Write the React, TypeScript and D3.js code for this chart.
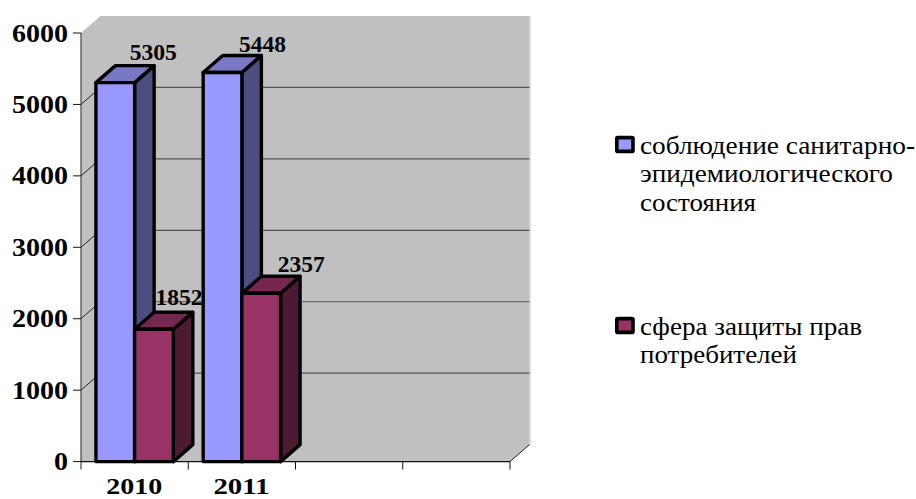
import React from "react";
import * as d3 from "d3";

const categories = ["2010", "2011"];
const sanitary = [5305, 5448];
const consumer = [1852, 2357];
const yTicks = [0, 1000, 2000, 3000, 4000, 5000, 6000];
const slotCount = 4;

const legendSanitary = ["соблюдение санитарно-", "эпидемиологического", "состояния"];
const legendConsumer = ["сфера защиты прав", "потребителей"];

const SERIF = "'Liberation Serif'";
const DX = 19.5;
const DY = 17;

const x = d3.scaleLinear().domain([0, slotCount]).range([81, 510]);
const y = d3.scaleLinear().domain([0, 6000]).range([461.6, 33]);

const blue = { front: "#9999ff", top: "#7878c4", side: "#4d4d80" };
const wine = { front: "#993366", top: "#76264f", side: "#4d1a33" };

type Palette = typeof blue;

function Bar({ left, right, value, c }: { left: number; right: number; value: number; c: Palette }) {
  const top = y(value);
  const base = y(0);
  const stroke = { stroke: "#000", strokeWidth: 3.4, strokeLinejoin: "round" as const };
  return (
    <g>
      <path
        d={`M${right},${top}L${right + DX},${top - DY}V${base - DY}L${right},${base}Z`}
        fill={c.side}
        {...stroke}
      />
      <path
        d={`M${left},${top}L${left + DX},${top - DY}H${right + DX}L${right},${top}Z`}
        fill={c.top}
        {...stroke}
      />
      <rect x={left} y={top} width={right - left} height={base - top} fill={c.front} {...stroke} />
    </g>
  );
}

function FitText(props: { x: number; y: number; w: number; size: number; bold?: boolean; anchor?: string; children: string }) {
  return (
    <text
      x={props.x}
      y={props.y}
      textLength={props.w}
      lengthAdjust="spacingAndGlyphs"
      textAnchor={props.anchor ?? "start"}
      fontFamily={SERIF}
      fontSize={props.size}
      fontWeight={props.bold ? 700 : 400}
      fill="#000"
    >
      {props.children}
    </text>
  );
}

// Per-label offsets of the value captions from the bar's top centre
const captionShift = [
  [[38, -23], [40, -20]],
  [[25, -24], [40, -21]],
];

export default function App() {
  const left = x(0);
  const right = x(slotCount);
  const top = y(6000);
  const base = y(0);
  const slot = x(1) - x(0);
  const barW = 38.7;
  const pad = (slot - 2 * barW) / 2;

  const legendLines = (lines: string[], widths: number[], ys: number[]) =>
    lines.map((t, i) => (
      <FitText key={t} x={640} y={ys[i]} w={widths[i]} size={25}>
        {t}
      </FitText>
    ));

  return (
    <svg
      width={916}
      height={499}
      viewBox="0 0 916 499"
      style={{ position: "absolute", left: 0, top: 0, background: "#fff" }}
    >
      {/* walls of the 3D plot area */}
      <path
        d={`M${left},${top}L${left + DX},${top - DY}H${right + DX}V${base - DY}L${right},${base}H${left}Z`}
        fill="#c0c0c0"
      />
      <line x1={right + DX + 0.5} x2={right + DX + 0.5} y1={top - DY} y2={base - DY} stroke="#d4d4d4" strokeWidth={1.5} />

      {/* gridlines: diagonal on the side wall, horizontal on the back wall */}
      {yTicks.slice(1, -1).map((t) => (
        <g key={t}>
          <line x1={left} y1={y(t)} x2={left + DX} y2={y(t) - DY} stroke="#222" strokeWidth={1} />
          <line x1={left + DX} y1={y(t) - DY} x2={right + DX} y2={y(t) - DY} stroke="#555" strokeWidth={1.2} />
        </g>
      ))}
      <line x1={right} y1={base} x2={right + DX} y2={base - DY} stroke="#222" strokeWidth={1} />

      {/* axes */}
      <line x1={left} x2={left} y1={top} y2={base + 8} stroke="#444" strokeWidth={1.2} />
      <line x1={left} x2={right} y1={base} y2={base} stroke="#111" strokeWidth={1.2} />
      {yTicks.map((t) => (
        <line key={t} x1={left - 8} x2={left} y1={y(t)} y2={y(t)} stroke="#111" strokeWidth={1} />
      ))}
      {d3.range(1, slotCount + 1).map((i) => (
        <line key={i} x1={x(i)} x2={x(i)} y1={base} y2={base + 8} stroke="#111" strokeWidth={1} />
      ))}

      {/* bars */}
      {categories.map((c, i) => {
        const x0 = x(i) + pad;
        return (
          <g key={c}>
            <Bar left={x0} right={x0 + barW} value={sanitary[i]} c={blue} />
            <Bar left={x0 + barW} right={x0 + 2 * barW} value={consumer[i]} c={wine} />
          </g>
        );
      })}

      {/* value captions */}
      {categories.map((c, i) => {
        const x0 = x(i) + pad;
        return (
          <g key={c}>
            {[sanitary[i], consumer[i]].map((v, s) => (
              <FitText
                key={s}
                x={x0 + barW * (s + 0.5) + captionShift[s][i][0]}
                y={y(v) + captionShift[s][i][1]}
                w={47}
                size={24}
                bold
                anchor="middle"
              >
                {String(v)}
              </FitText>
            ))}
          </g>
        );
      })}

      {/* axis labels */}
      {yTicks.map((t) => {
        const s = String(t);
        return (
          <FitText key={t} x={68} y={y(t) + 8.5} w={14 * s.length} size={26} bold anchor="end">
            {s}
          </FitText>
        );
      })}
      {categories.map((c, i) => (
        <FitText key={c} x={x(i) + slot / 2 - 0.5} y={494} w={56} size={23} bold anchor="middle">
          {c}
        </FitText>
      ))}

      {/* legend */}
      <rect x={616.8} y={137.6} width={16.2} height={13.8} fill={blue.front} stroke="#000" strokeWidth={3.6} rx={1} />
      {legendLines(legendSanitary, [275, 253, 116], [154, 182, 211])}
      <rect x={616.8} y={318.6} width={16.2} height={13.8} fill={wine.front} stroke="#000" strokeWidth={3.6} rx={1} />
      {legendLines(legendConsumer, [222, 157], [335, 363])}
    </svg>
  );
}
